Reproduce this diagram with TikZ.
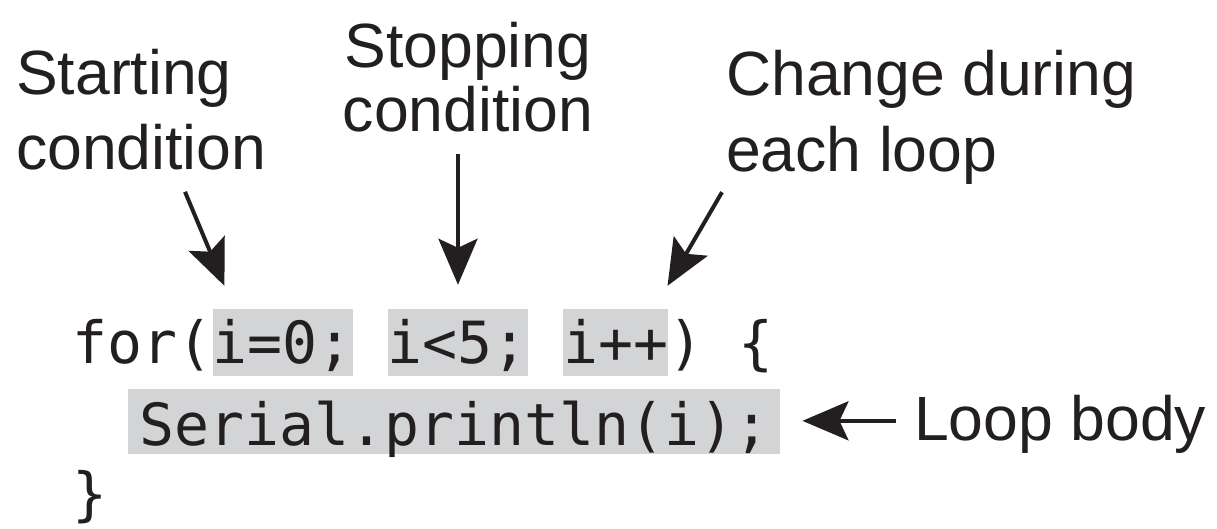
\documentclass[tikz,border=0pt]{standalone}
\usepackage{fontspec}
\setmainfont{Liberation Sans}
\newfontfamily\codefont{DejaVu Sans Mono}
\usetikzlibrary{positioning, arrows.meta}
\definecolor{inkblack}{HTML}{231F20}
\definecolor{codegray}{HTML}{D3D4D6}
\newcommand{\cw}{34.94pt}

\begin{document}
\begin{tikzpicture}[x=1pt, y=-1pt, inkblack,
  label/.style={align=left, inner sep=0pt, anchor=base west, font=\fontsize{62.5}{75}\selectfont},
  code/.style={inner sep=0pt, anchor=base west, font=\codefont\fontsize{58.14}{70}\selectfont},
  hl/.style={code, fill=codegray, text height=54pt, text depth=13pt},
  pointer/.style={line width=4pt, -{Stealth[length=46pt, width=39pt, inset=9pt]}}]
  \useasboundingbox (0,0) rectangle (1217,529);

  % the three lines of code
  \node[code] (forkw) at (72,363) {for(};
  \node[hl, base right=0pt of forkw] (init) {i=0;};
  \node[hl, base right=\cw of init] (cond) {i<5;};
  \node[hl, base right=\cw of cond] (incr) {i++};
  \node[code, base right=0pt of incr] (open) {) \{};
  \node[hl, inner xsep=11pt, text height=56pt, text depth=9pt] (body) at (128,445) {Serial.println(i);};
  \node[code] (close) at (72,514) {\}};

  % labels (base = last line)
  \node[label] (startlbl) at (16,170) {Starting\\condition};
  \node[label, align=center, anchor=base, font=\fontsize{62.5}{64}\selectfont] (stoplbl) at (468,132) {Stopping\\condition};
  \node[label, font=\fontsize{62.5}{76}\selectfont] (changelbl) at (726,172) {Change during\\each loop};
  \node[label] (looplbl) at (914,440) {Loop body};

  % arrows
  \draw[pointer] ([xshift=169pt, yshift=-21pt]startlbl.south west) -- ([xshift=12pt, yshift=23pt]init.north west);
  \draw[pointer, shorten <=21pt, shorten >=24pt] (cond.north |- stoplbl.south) -- (cond.north);
  \draw[pointer] ([xshift=-4pt, yshift=-7pt]changelbl.south west) -- ([xshift=-1pt, yshift=23pt]incr.north east);
  \draw[pointer, shorten <=18pt, shorten >=22pt] ([yshift=3pt]looplbl.west) -- ([yshift=3pt]looplbl.west -| body.east);
\end{tikzpicture}
\end{document}
